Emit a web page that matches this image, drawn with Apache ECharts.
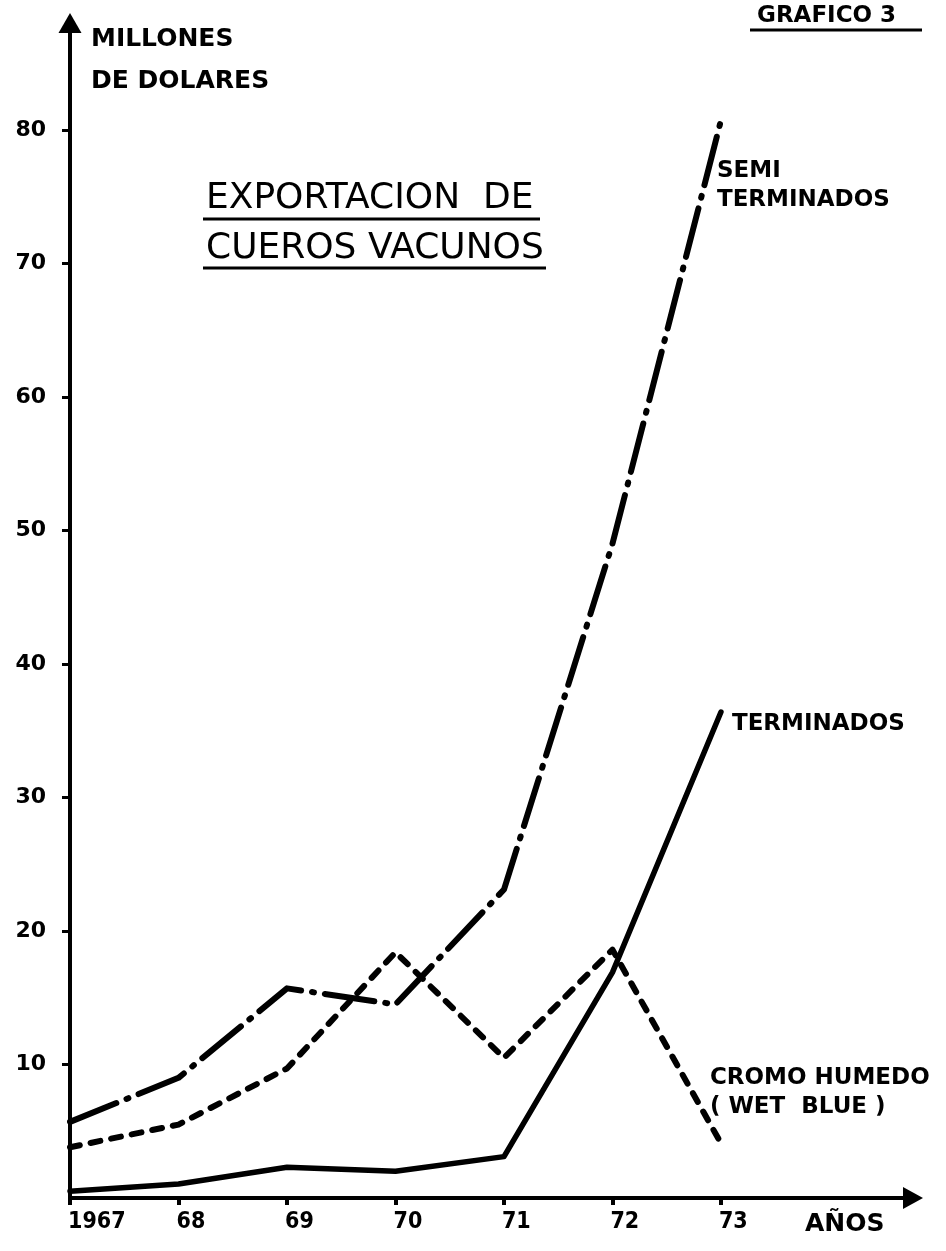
<!DOCTYPE html>
<html>
<head>
<meta charset="utf-8">
<script src="https://cdn.jsdelivr.net/npm/echarts@6/dist/echarts.min.js"></script>
<style>
html,body{margin:0;padding:0;background:#fff;}
#chart{width:946px;height:1251px;}
</style>
</head>
<body>
<div id="chart"></div>
<script>
// ---- Data ----
const categories = ['1967', '68', '69', '70', '71', '72', '73'];
const semiTerminados = [5.7, 9.0, 15.7, 14.5, 23.1, 49.0, 80.7];
const cromoHumedo = [3.8, 5.5, 9.7, 18.4, 10.5, 18.6, 4.1];
const terminados = [0.5, 1.05, 2.3, 2.0, 3.1, 16.9, 36.4];
const yTickValues = [10, 20, 30, 40, 50, 60, 70, 80];
const seriesNames = ['SEMI\nTERMINADOS', 'TERMINADOS', 'CROMO HUMEDO\n( WET  BLUE )'];
const titleText = 'EXPORTACION  DE\nCUEROS VACUNOS';
const yAxisTitle = 'MILLONES\nDE DOLARES';
const xAxisTitle = 'AÑOS';
const chartNumber = 'GRAFICO 3';

const toPairs = arr => arr.map((v, i) => [i, v]);
const xIdx = categories.map((c, i) => i);

const labelFont = "'DejaVu Sans', sans-serif";
const narrowFont = "'DejaVu Sans Condensed', 'DejaVu Sans', sans-serif";

const chart = echarts.init(document.getElementById('chart'), null, {renderer: 'canvas'});

const endLabelBase = {
  show: true,
  color: '#000',
  fontFamily: labelFont,
  fontWeight: 'bold',
  fontSize: 23,
  lineHeight: 29,
  align: 'left',
  distance: 0
};

chart.setOption({
  animation: false,
  backgroundColor: '#fff',
  title: [
    {
      text: titleText,
      left: 201, top: 169,
      textStyle: {fontFamily: labelFont, fontWeight: 'normal', fontSize: 36, lineHeight: 50, color: '#000'}
    },
    {
      text: chartNumber,
      left: 752, top: 0,
      textStyle: {fontFamily: labelFont, fontWeight: 'bold', fontSize: 23, color: '#000'}
    },
    {
      text: yAxisTitle,
      left: 86, top: 13,
      textStyle: {fontFamily: labelFont, fontWeight: 'bold', fontSize: 25, lineHeight: 42, color: '#000'}
    },
    {
      text: xAxisTitle,
      left: 800, top: 1207,
      textStyle: {fontFamily: labelFont, fontWeight: 'bold', fontSize: 25, color: '#000'}
    }
  ],
  graphic: [
    {type: 'line', shape: {x1: 203, y1: 219, x2: 540, y2: 219}, style: {stroke: '#000', lineWidth: 3}},
    {type: 'line', shape: {x1: 203, y1: 268, x2: 546, y2: 268}, style: {stroke: '#000', lineWidth: 3}},
    {type: 'line', shape: {x1: 750, y1: 30, x2: 922, y2: 30}, style: {stroke: '#000', lineWidth: 3}}
  ],
  grid: {left: 70, right: 33, top: 23, bottom: 53, containLabel: false},
  xAxis: {
    type: 'value',
    min: 0,
    max: 7.77,
    interval: 1,
    splitLine: {show: false},
    axisLine: {
      show: true,
      lineStyle: {color: '#000', width: 4},
      symbol: ['none', 'triangle'],
      symbolSize: [22, 20]
    },
    axisTick: {show: true, customValues: xIdx, length: 7, lineStyle: {color: '#000', width: 4}},
    axisLabel: {
      customValues: xIdx,
      formatter: v => categories[Math.round(v)],
      color: '#000',
      fontFamily: narrowFont,
      fontWeight: 'bold',
      fontSize: 23,
      margin: 13,
      align: 'left',
      padding: [0, 0, 0, -2]
    }
  },
  yAxis: {
    type: 'value',
    min: 0,
    max: 88,
    interval: 10,
    splitLine: {show: false},
    axisLine: {
      show: true,
      lineStyle: {color: '#000', width: 4},
      symbol: ['none', 'triangle'],
      symbolSize: [23, 20]
    },
    axisTick: {show: true, customValues: yTickValues, length: 8, lineStyle: {color: '#000', width: 3}},
    axisLabel: {
      customValues: yTickValues,
      color: '#000',
      fontFamily: labelFont,
      fontWeight: 'bold',
      fontSize: 22,
      margin: 24
    }
  },
  series: [
    {
      name: seriesNames[0],
      type: 'line',
      data: toPairs(semiTerminados),
      showSymbol: false,
      lineStyle: {color: '#000', width: 6, type: [50, 11, 2, 11], cap: 'round', join: 'round'},
      endLabel: Object.assign({}, endLabelBase, {formatter: seriesNames[0], offset: [-4, 65]})
    },
    {
      name: seriesNames[1],
      type: 'line',
      data: toPairs(terminados),
      showSymbol: false,
      lineStyle: {color: '#000', width: 5.5, type: 'solid', cap: 'round', join: 'round'},
      endLabel: Object.assign({}, endLabelBase, {formatter: seriesNames[1], offset: [11, 12]})
    },
    {
      name: seriesNames[2],
      type: 'line',
      data: toPairs(cromoHumedo),
      showSymbol: false,
      lineStyle: {color: '#000', width: 6, type: [10, 11], cap: 'round', join: 'round'},
      endLabel: Object.assign({}, endLabelBase, {formatter: seriesNames[2], offset: [-11, -51]})
    }
  ]
});
</script>
</body>
</html>
